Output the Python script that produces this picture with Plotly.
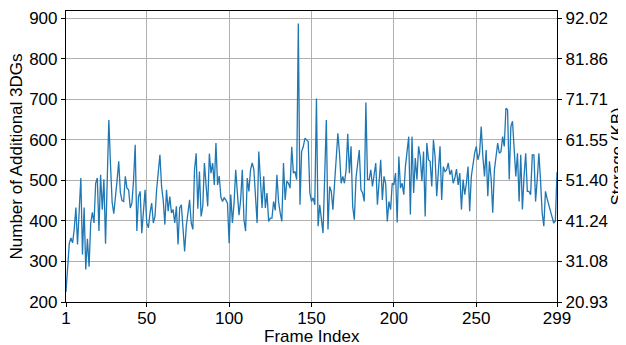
import plotly.graph_objects as go

additional_3dgs = [
    225, 290, 345, 358, 346, 380, 433, 342, 420, 506,
    317, 433, 280, 356, 287, 395, 421, 395, 493, 506,
    375, 514, 428, 503, 344, 500, 649, 540, 446, 418,
    452, 500, 547, 470, 450, 448, 510, 481, 477, 432,
    444, 500, 588, 375, 460, 473, 370, 432, 477, 395,
    383, 420, 444, 395, 411, 477, 520, 563, 485, 452,
    391, 477, 424, 460, 420, 428, 395, 436, 342, 432,
    440, 370, 325, 387, 420, 452, 395, 379, 526, 567,
    430, 522, 411, 436, 543, 493, 436, 566, 518, 543,
    489, 592, 489, 511, 459, 448, 457, 452, 444, 345,
    465, 395, 444, 526, 457, 414, 452, 526, 403, 375,
    506, 473, 526, 543, 528, 470, 395, 571, 506, 432,
    510, 432, 469, 399, 407, 407, 448, 426, 514, 448,
    420, 399, 543, 452, 498, 493, 481, 583, 518, 522,
    502, 887, 440, 571, 583, 604, 600, 596, 469, 448,
    457, 440, 702, 387, 440, 403, 370, 510, 649, 379,
    485, 473, 428, 493, 567, 616, 567, 493, 510, 493,
    526, 615, 518, 584, 436, 403, 506, 539, 575, 477,
    469, 448, 692, 502, 502, 526, 485, 514, 543, 440,
    502, 551, 452, 510, 493, 399, 448, 428, 493, 489,
    518, 396, 559, 481, 493, 465, 534, 575, 608, 416,
    608, 469, 555, 502, 584, 559, 498, 571, 411, 592,
    551, 547, 485, 600, 559, 461, 534, 584, 452, 534,
    522, 526, 543, 514, 526, 493, 506, 528, 489, 518,
    428, 502, 465, 493, 534, 424, 510, 543, 567, 584,
    551, 567, 633, 559, 510, 575, 461, 547, 506, 420,
    526, 559, 592, 567, 571, 608, 584, 678, 674, 502,
    633, 646, 559, 510, 567, 448, 563, 428, 510, 567,
    473, 473, 465, 563, 563, 448, 502, 567, 500, 420,
    387, 473, 455, 440, 425, 410, 395, 400, 520,
]
frames = list(range(1, len(additional_3dgs) + 1))

x_ticks = [1, 50, 100, 150, 200, 250, 299]
left_ticks = [200, 300, 400, 500, 600, 700, 800, 900]
storage_labels = ["20.93", "31.08", "41.24", "51.40", "61.55", "71.71", "81.86", "92.02"]

x_title = "Frame Index"
y_title = "Number of Additional 3DGs"
y2_title = "Storage (KB)"

FONT = "Liberation Sans, Arial, sans-serif"
yrange = [200, 918]

fig = go.Figure()
fig.add_trace(go.Scatter(
    x=frames, y=additional_3dgs, mode="lines",
    line=dict(color="#1f77b4", width=1.3),
    showlegend=False, yaxis="y",
))
fig.add_trace(go.Scatter(
    x=[frames[0]], y=[additional_3dgs[0]], mode="lines",
    line=dict(width=0), showlegend=False, hoverinfo="skip", yaxis="y2",
))

axis_common = dict(
    showline=True, linecolor="black", linewidth=1.2,
    ticks="outside", ticklen=4, tickwidth=1, tickcolor="black",
    tickfont=dict(family=FONT, size=17, color="black"),
    zeroline=False, automargin=False,
)

# page body has an 8px default margin, so the figure is sized/offset to fit the window
fig.update_layout(
    width=618, height=337,
    margin=dict(l=58, r=69, t=3, b=43),
    paper_bgcolor="white", plot_bgcolor="white",
    font=dict(family=FONT, size=17, color="black"),
    xaxis=dict(
        range=[1, 299], tickvals=x_ticks,
        showgrid=True, gridcolor="#b0b0b0", gridwidth=1,
        mirror=True, ticklabelstandoff=-4,
        **axis_common,
    ),
    yaxis=dict(
        range=yrange, tickvals=left_ticks,
        showgrid=True, gridcolor="#b0b0b0", gridwidth=1,
        **axis_common,
    ),
    yaxis2=dict(
        range=yrange, tickvals=left_ticks, ticktext=storage_labels,
        overlaying="y", side="right", showgrid=False,
        **axis_common,
    ),
    annotations=[
        dict(text=x_title, xref="paper", yref="paper", x=0.5, y=-0.117,
             xanchor="center", yanchor="middle", showarrow=False,
             font=dict(family=FONT, size=17, color="black")),
        dict(text=y_title, xref="paper", yref="paper", x=-0.0998, y=0.5,
             textangle=-90, xanchor="center", yanchor="middle", showarrow=False,
             font=dict(family=FONT, size=17, color="black")),
        dict(text=y2_title, xref="paper", yref="paper", x=1.1242, y=0.5,
             textangle=-90, xanchor="center", yanchor="middle", showarrow=False,
             font=dict(family=FONT, size=17, color="black")),
    ],
)

fig.write_html("out.html")
